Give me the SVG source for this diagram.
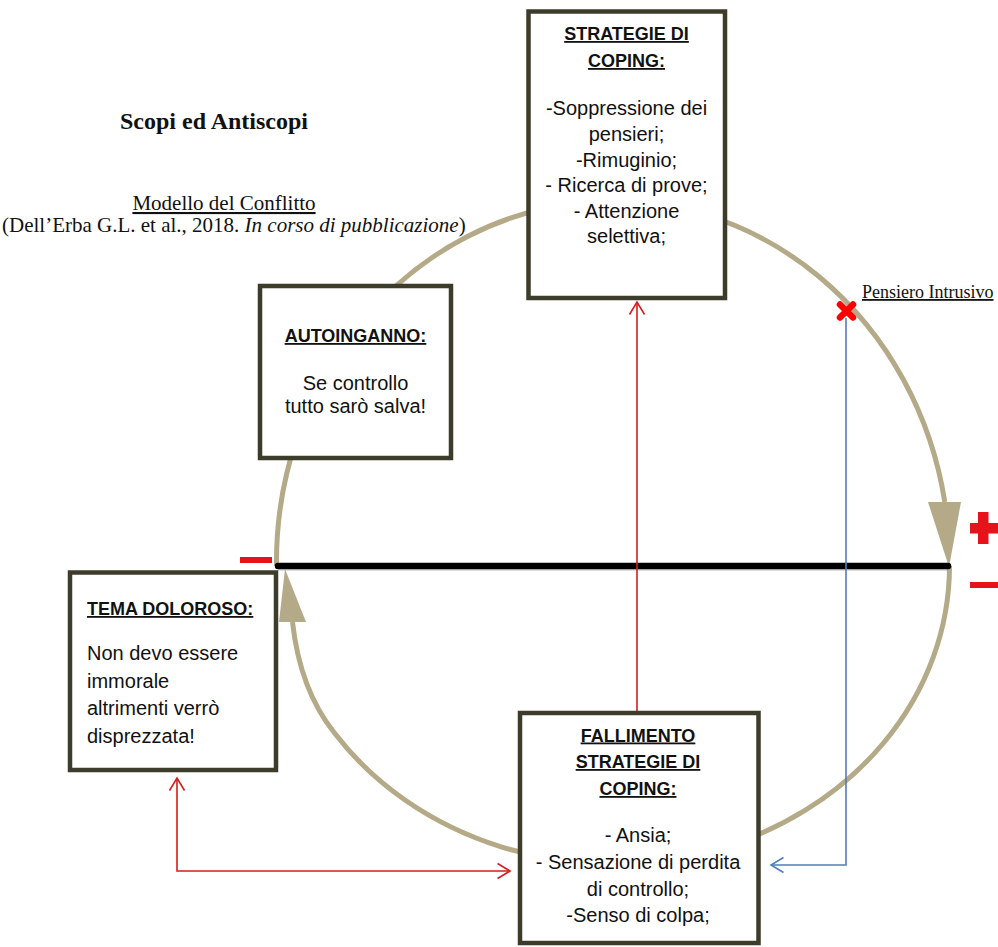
<svg xmlns="http://www.w3.org/2000/svg" width="998" height="947" viewBox="0 0 998 947">
<style>
.box{fill:#fff;stroke:#3d3b29;stroke-width:4.5}
.hd{font-family:"Liberation Sans",Arial,sans-serif;font-weight:bold;font-size:18px;fill:#111;text-decoration:underline}
.bd{font-family:"Liberation Sans",Arial,sans-serif;font-size:20px;fill:#111}
.c{text-anchor:middle}
.serif{font-family:"Liberation Serif","Times New Roman",serif;fill:#111}
.arc{fill:none;stroke:#b4aa88;stroke-width:5}
.head{fill:#b4aa88}
.red{fill:none;stroke:#d21f1f;stroke-width:1.6}
.blue{fill:none;stroke:#4f7fb8;stroke-width:1.6}
.sign{fill:#e6141a}
</style>
<defs>
<marker id="redHead" viewBox="0 0 14 16" refX="13" refY="8" markerWidth="14" markerHeight="16" markerUnits="userSpaceOnUse" orient="auto-start-reverse" overflow="visible">
<path d="M0.5,0.5 L13,8 L0.5,15.5" fill="none" stroke="#d21f1f" stroke-width="1.6"/>
</marker>
<marker id="blueHead" viewBox="0 0 14 16" refX="13" refY="8" markerWidth="14" markerHeight="16" markerUnits="userSpaceOnUse" orient="auto" overflow="visible">
<path d="M0.5,0.5 L13,8 L0.5,15.5" fill="none" stroke="#4f7fb8" stroke-width="1.6"/>
</marker>
</defs>
<rect width="998" height="947" fill="#fff"/>

<g id="title">
<text class="serif" x="120" y="129" font-size="24" font-weight="bold">Scopi ed Antiscopi</text>
<text class="serif c" x="224" y="210" font-size="21" text-decoration="underline">Modello del Conflitto</text>
<text class="serif" x="2" y="232" font-size="21">(Dell’Erba G.L. et al., 2018. <tspan font-style="italic">In corso di pubblicazione</tspan>)</text>
</g>

<g id="connectors">
<path class="arc" d="M276.5,566 A336.5,361 0 0 1 944.8,502"/>
<polygon class="head" points="928,502 961,502 949,567"/>
<path class="arc" d="M949.5,566 A336.5,298 0 0 1 334.5,733 Q300,690 292.5,622"/>
<polygon class="head" points="279,622 306,622 285,569"/>
<line x1="278" y1="569" x2="948" y2="569" stroke="#999" stroke-width="4" opacity="0.35"/>
<line x1="278" y1="566" x2="948" y2="566" stroke="#000" stroke-width="6.5" stroke-linecap="round"/>
<rect class="sign" x="240" y="557" width="32" height="6"/>
<rect class="sign" x="970" y="523" width="28" height="10.5"/>
<rect class="sign" x="978" y="512" width="10.5" height="32"/>
<rect class="sign" x="970" y="582" width="28" height="6"/>
<line class="red" x1="637" y1="712" x2="637" y2="302" marker-end="url(#redHead)"/>
<polyline class="red" points="177,778 177,871 510,871" marker-start="url(#redHead)" marker-end="url(#redHead)"/>
<polyline class="blue" points="846,318 846,865 771,865" marker-end="url(#blueHead)"/>
<path d="M840,304.5 L853,317.5 M853,304.5 L840,317.5" stroke="#ff0000" stroke-width="6.5" stroke-linecap="round"/>
<text class="serif" x="862" y="298" font-size="18" text-decoration="underline">Pensiero Intrusivo</text>
</g>

<g id="box-strategie">
<rect class="box" x="528.5" y="11.5" width="196.5" height="286.5"/>
<text class="hd c" x="626.5" y="40">STRATEGIE DI</text>
<text class="hd c" x="626.5" y="67">COPING:</text>
<text class="bd c" x="626.5" y="115">-Soppressione dei</text>
<text class="bd c" x="626.5" y="141">pensieri;</text>
<text class="bd c" x="626.5" y="166.5">-Rimuginio;</text>
<text class="bd c" x="626.5" y="192">- Ricerca di prove;</text>
<text class="bd c" x="626.5" y="217.5">- Attenzione</text>
<text class="bd c" x="626.5" y="243">selettiva;</text>
</g>

<g id="box-autoinganno">
<rect class="box" x="260" y="286" width="191" height="172"/>
<text class="hd c" x="355.5" y="342">AUTOINGANNO:</text>
<text class="bd c" x="355.5" y="390">Se controllo</text>
<text class="bd c" x="355.5" y="413">tutto sarò salva!</text>
</g>

<g id="box-tema">
<rect class="box" x="70" y="572.5" width="206" height="197.5"/>
<text class="hd" x="87" y="615">TEMA DOLOROSO:</text>
<text class="bd" x="87" y="660">Non devo essere</text>
<text class="bd" x="87" y="687.5">immorale</text>
<text class="bd" x="87" y="715">altrimenti verrò</text>
<text class="bd" x="87" y="742.5">disprezzata!</text>
</g>

<g id="box-fallimento">
<rect class="box" x="520" y="713" width="238.5" height="230"/>
<text class="hd c" x="638" y="741.5">FALLIMENTO</text>
<text class="hd c" x="638" y="768">STRATEGIE DI</text>
<text class="hd c" x="638" y="795">COPING:</text>
<text class="bd c" x="638" y="842">- Ansia;</text>
<text class="bd c" x="638" y="869">- Sensazione di perdita</text>
<text class="bd c" x="638" y="895.5">di controllo;</text>
<text class="bd c" x="638" y="922">-Senso di colpa;</text>
</g>
</svg>
